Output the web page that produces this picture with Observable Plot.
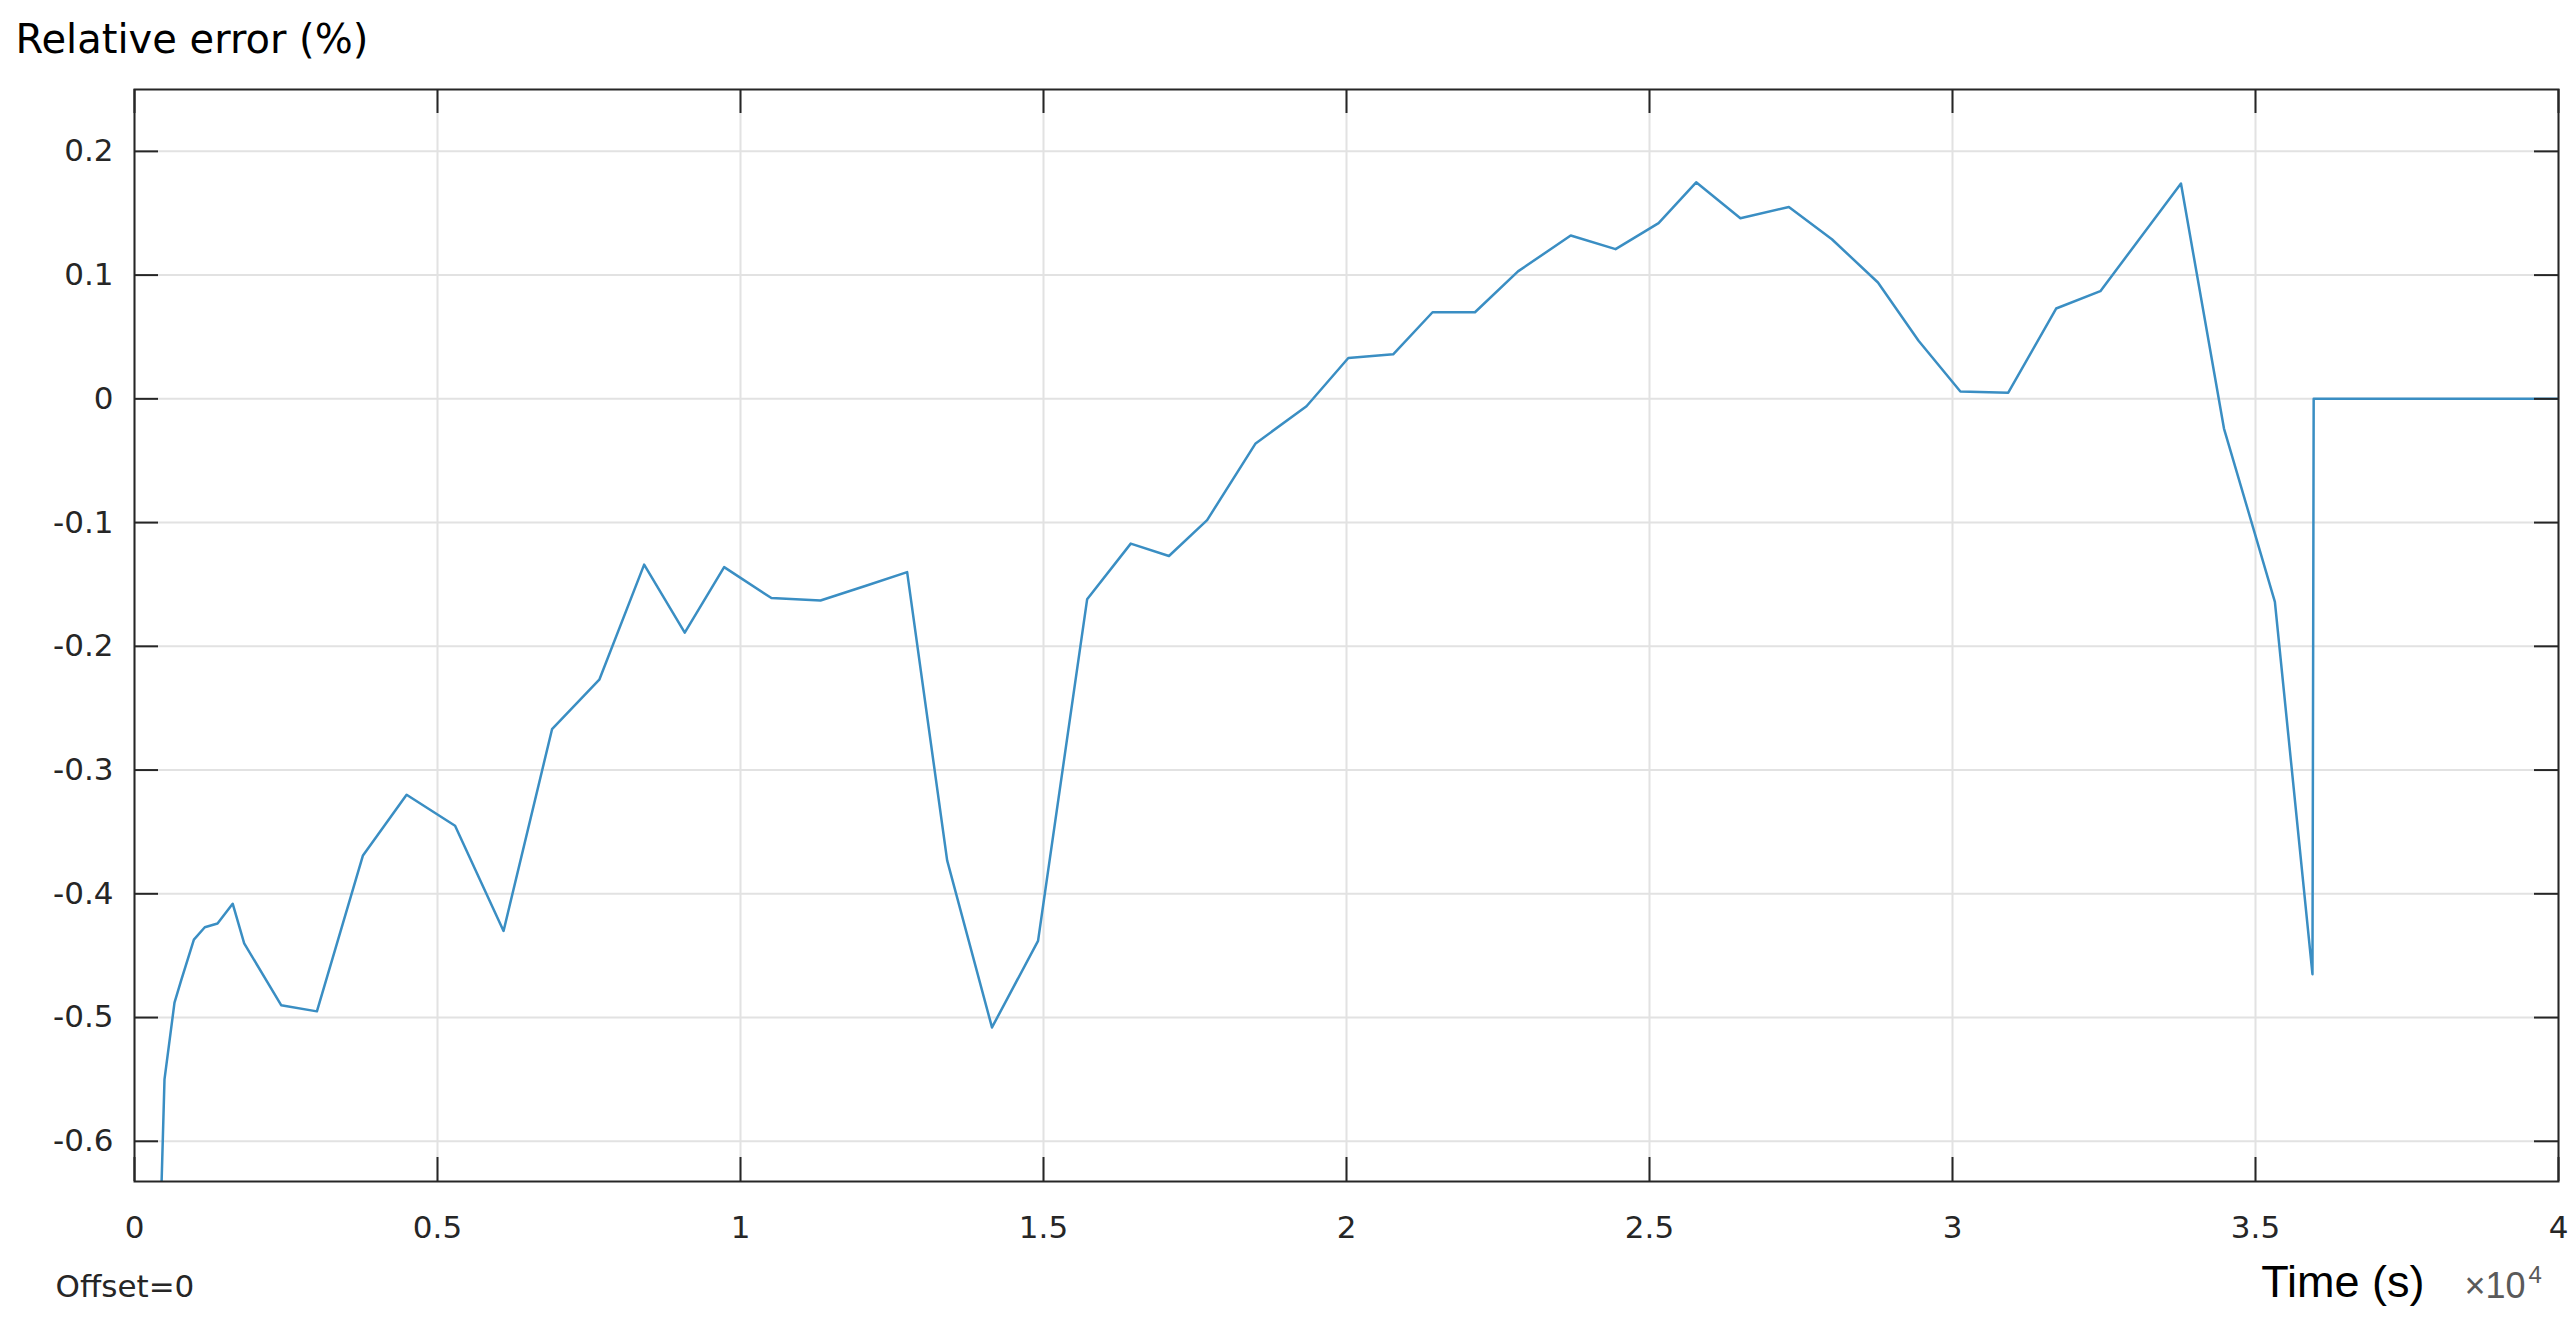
<!DOCTYPE html>
<html>
<head>
<meta charset="utf-8">
<script src="https://cdn.jsdelivr.net/npm/d3@7"></script>
<script src="https://cdn.jsdelivr.net/npm/@observablehq/plot@0.6"></script>
<style>
  html, body { margin: 0; padding: 0; background: #ffffff; }
  #chart { width: 2576px; height: 1318px; }
</style>
</head>
<body>
<div id="chart"></div>
<script>
// Time values in units of 10^4 s
const times = [
  0.042, 0.0495, 0.066, 0.077, 0.098, 0.116, 0.137, 0.162, 0.181, 0.242,
  0.301, 0.377, 0.449, 0.529, 0.609, 0.689, 0.767, 0.841, 0.908, 0.973,
  1.051, 1.132, 1.207, 1.275, 1.341, 1.415, 1.491, 1.572, 1.644, 1.707,
  1.770, 1.850, 1.934, 2.003, 2.077, 2.142, 2.212, 2.283, 2.370, 2.444,
  2.515, 2.577, 2.650, 2.730, 2.801, 2.877, 2.944, 3.013, 3.092, 3.171,
  3.244, 3.377, 3.448, 3.532, 3.594, 3.596, 4.0
];
// Relative error (%)
const errors = [
  -0.68, -0.550, -0.488, -0.470, -0.437, -0.427, -0.424, -0.408, -0.440, -0.490,
  -0.495, -0.369, -0.320, -0.345, -0.430, -0.267, -0.227, -0.134, -0.189, -0.136,
  -0.161, -0.163, -0.151, -0.140, -0.373, -0.508, -0.438, -0.162, -0.117, -0.127,
  -0.098, -0.036, -0.006, 0.033, 0.036, 0.070, 0.070, 0.103, 0.132, 0.121,
  0.142, 0.175, 0.146, 0.155, 0.129, 0.094, 0.047, 0.006, 0.005, 0.073,
  0.087, 0.174, -0.024, -0.164, -0.465, 0, 0
];
const xTicks = [0, 0.5, 1, 1.5, 2, 2.5, 3, 3.5, 4];
const xTickLabels = ["0", "0.5", "1", "1.5", "2", "2.5", "3", "3.5", "4"];
const yTicks = [-0.6, -0.5, -0.4, -0.3, -0.2, -0.1, 0, 0.1, 0.2];
const yTickLabels = ["-0.6", "-0.5", "-0.4", "-0.3", "-0.2", "-0.1", "0", "0.1", "0.2"];
const xDomain = [0, 4];
const yDomain = [-0.6325, 0.25];
const titleText = "Relative error (%)";
const xLabelText = "Time (s)";
const offsetText = "Offset=0";
const exponentBase = "×10";
const exponentPower = "4";

const data = times.map((t, i) => ({t, e: errors[i]}));

const W = 2576, H = 1318;
const mL = 134, mR = 18, mT = 89, mB = 137;
const innerW = W - mL - mR;
const innerH = H - mT - mB;
const tickLen = 24;
const ink = "#262626";

const chart = Plot.plot({
  width: W,
  height: H,
  marginLeft: mL,
  marginRight: mR,
  marginTop: mT,
  marginBottom: mB,
  style: {fontFamily: "DejaVu Sans", fontSize: "31px", color: ink, background: "#ffffff", overflow: "visible"},
  x: {domain: xDomain},
  y: {domain: yDomain},
  marks: [
    Plot.gridX(xTicks, {stroke: "#e2e2e2", strokeOpacity: 1, strokeWidth: 2}),
    Plot.gridY(yTicks, {stroke: "#e2e2e2", strokeOpacity: 1, strokeWidth: 2}),
    Plot.line(data, {x: "t", y: "e", stroke: "#3a8ec3", strokeWidth: 2.5, clip: true}),
    // inward tick marks on all four sides
    Plot.ruleX(xTicks, {stroke: ink, strokeWidth: 2, insetTop: innerH - tickLen}),
    Plot.ruleX(xTicks, {stroke: ink, strokeWidth: 2, insetBottom: innerH - tickLen}),
    Plot.ruleY(yTicks, {stroke: ink, strokeWidth: 2, insetRight: innerW - tickLen}),
    Plot.ruleY(yTicks, {stroke: ink, strokeWidth: 2, insetLeft: innerW - tickLen}),
    Plot.frame({stroke: ink, strokeWidth: 2}),
    Plot.axisX(xTicks, {anchor: "bottom", tickSize: 0, tickPadding: 34, label: null,
      tickFormat: (d, i) => xTickLabels[i], fontSize: 31, fill: ink}),
    Plot.axisY(yTicks, {anchor: "left", tickSize: 0, tickPadding: 21, label: null,
      tickFormat: (d, i) => yTickLabels[i], fontSize: 31, fill: ink}),
    Plot.text([titleText], {frameAnchor: "top-left", textAnchor: "start", lineAnchor: "bottom",
      dx: -119, dy: -37, fontSize: 40, fill: "#000000"}),
    Plot.text([offsetText], {frameAnchor: "bottom-left", textAnchor: "start", lineAnchor: "bottom",
      dx: -79, dy: 115, fontSize: 31, fill: ink}),
    Plot.text([xLabelText], {frameAnchor: "bottom-right", textAnchor: "end", lineAnchor: "bottom",
      dx: -134, dy: 115, fontSize: 45, fontFamily: "Liberation Sans", fill: "#000000"}),
    Plot.text([exponentBase], {frameAnchor: "bottom-right", textAnchor: "start", lineAnchor: "bottom",
      dx: -94, dy: 116, fontSize: 36, fontFamily: "Liberation Sans", fill: "#5a5a5a"}),
    Plot.text([exponentPower], {frameAnchor: "bottom-right", textAnchor: "start", lineAnchor: "bottom",
      dx: -30, dy: 101, fontSize: 24, fontFamily: "Liberation Sans", fill: "#5a5a5a"})
  ]
});
document.getElementById("chart").appendChild(chart);
</script>
</body>
</html>
